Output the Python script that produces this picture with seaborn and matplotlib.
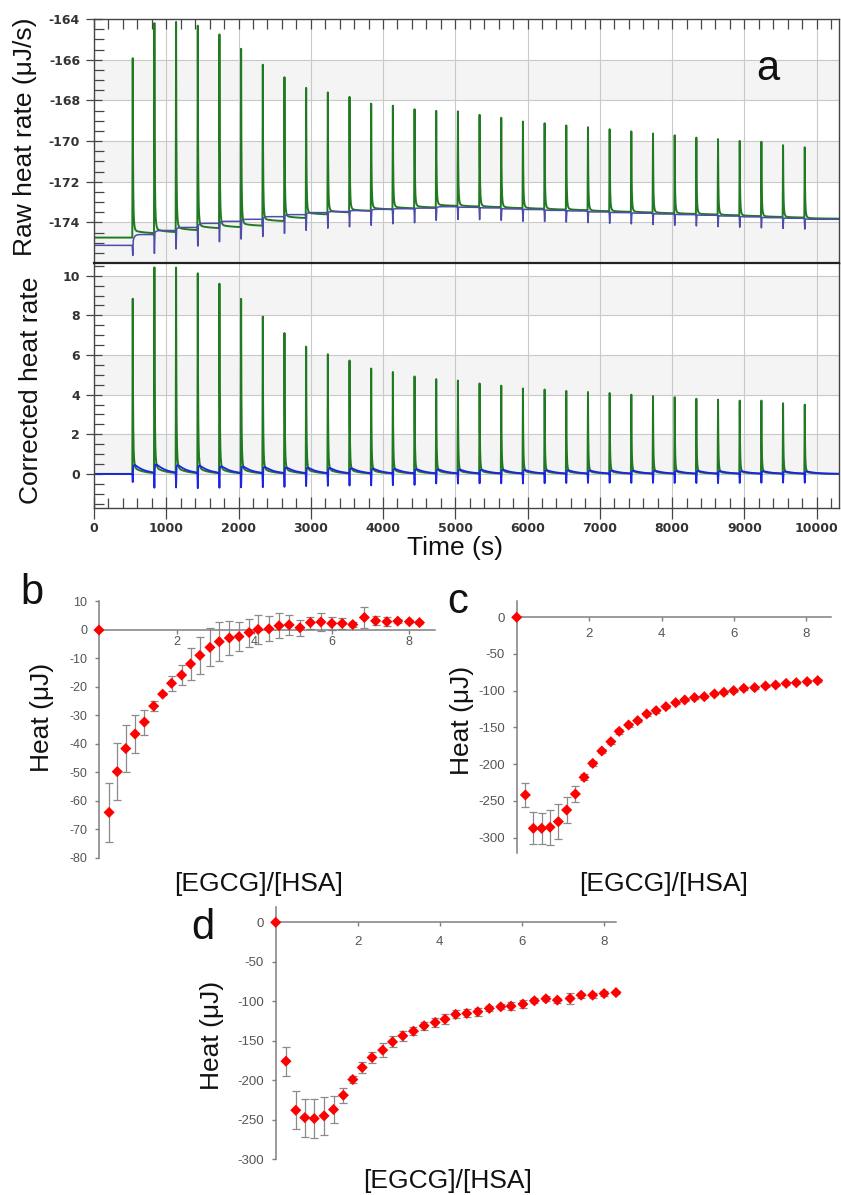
import numpy as np
import matplotlib
matplotlib.use("Agg")
import matplotlib.pyplot as plt
import seaborn as sns
from matplotlib.ticker import MultipleLocator

sns.set_theme(style="white")
plt.rcParams['font.family'] = ['Liberation Sans', 'DejaVu Sans']

# ---------------- thermogram data (panel a) ----------------
inj_time = [530, 830, 1130, 1430, 1730, 2030, 2330, 2630, 2930, 3230, 3530,
            3830, 4130, 4430, 4730, 5030, 5330, 5630, 5930, 6230, 6530, 6830,
            7130, 7430, 7730, 8030, 8330, 8630, 8930, 9230, 9530, 9830]

# corrected peak heights of the sample injections (uJ/s)
peak_sample = [8.70, 10.25, 10.25, 9.97, 9.46, 8.70, 7.81, 6.99, 6.31, 5.93,
               5.62, 5.22, 5.05, 4.83, 4.70, 4.63, 4.49, 4.38, 4.24, 4.19,
               4.12, 4.07, 4.02, 3.94, 3.87, 3.82, 3.74, 3.70, 3.65, 3.65,
               3.52, 3.45]

# blank injections: downward spike depth and following endothermic hump
spike_blank = [0.64, 0.98, 0.95, 0.97, 0.93, 0.90, 0.88, 0.85, 0.80, 0.78,
               0.76, 0.74, 0.72, 0.70, 0.62, 0.62, 0.60, 0.60, 0.60, 0.58,
               0.57, 0.56, 0.55, 0.55, 0.55, 0.55, 0.55, 0.55, 0.54, 0.53,
               0.52, 0.52]
hump_blank = [0.45, 0.42, 0.38, 0.36, 0.33, 0.32, 0.30, 0.28, 0.27, 0.26,
              0.25, 0.23, 0.22, 0.21, 0.20, 0.19, 0.18, 0.18, 0.17, 0.16,
              0.16, 0.15, 0.15, 0.14, 0.14, 0.13, 0.13, 0.12, 0.12, 0.12,
              0.11, 0.11]

# raw baseline level before the first and after every injection (uJ/s)
base_sample = [-174.75, -174.55, -174.50, -174.40, -174.30, -174.25, -174.18,
               -173.95, -173.80, -173.62, -173.52, -173.45, -173.37, -173.32,
               -173.28, -173.20, -173.23, -173.26, -173.31, -173.34, -173.38,
               -173.41, -173.46, -173.49, -173.52, -173.56, -173.59, -173.62,
               -173.66, -173.70, -173.74, -173.77, -173.82]
base_blank = [-175.13, -174.60, -174.40, -174.25, -174.05, -173.95, -173.85,
              -173.72, -173.62, -173.52, -173.47, -173.42, -173.36, -173.33,
              -173.30, -173.23, -173.26, -173.29, -173.34, -173.37, -173.41,
              -173.44, -173.49, -173.52, -173.55, -173.59, -173.62, -173.65,
              -173.69, -173.73, -173.77, -173.80, -173.85]

# ---------------- integrated heats (panels b, c, d) ----------------
b_ratio = [0, 0.26, 0.47, 0.69, 0.93, 1.17, 1.41, 1.64, 1.87, 2.13, 2.36, 2.60,
           2.86, 3.10, 3.36, 3.61, 3.87, 4.10, 4.38, 4.64, 4.90, 5.18, 5.45,
           5.72, 6.00, 6.27, 6.54, 6.84, 7.13, 7.42, 7.70, 8.00, 8.26]
b_heat = [0, -64.0, -49.7, -41.6, -36.5, -32.3, -26.7, -22.5, -18.7, -15.8,
          -11.9, -8.9, -6.1, -4.1, -2.8, -2.3, -0.9, 0.2, 0.4, 1.5, 1.8, 0.8,
          2.6, 2.8, 2.3, 2.3, 1.9, 4.4, 3.2, 2.9, 3.1, 2.9, 2.6]
b_sd = [0, 10.3, 10.1, 8.3, 6.8, 4.4, 1.8, 0.4, 2.6, 3.6, 5.6, 6.5, 6.7, 6.8,
        6.1, 5.0, 4.9, 5.0, 4.4, 4.3, 3.6, 2.8, 2.1, 3.3, 2.2, 2.0, 1.0, 3.7,
        1.6, 1.5, 0.6, 0.6, 0.5]

c_ratio = [0, 0.24, 0.46, 0.69, 0.92, 1.15, 1.38, 1.62, 1.86, 2.10, 2.35, 2.60,
           2.83, 3.09, 3.34, 3.59, 3.85, 4.12, 4.39, 4.64, 4.91, 5.18, 5.46,
           5.72, 5.99, 6.27, 6.57, 6.87, 7.15, 7.44, 7.72, 8.02, 8.31]
c_heat = [0, -242.0, -287.5, -287.5, -286.0, -278.4, -262.5, -240.7, -218.0,
          -199.0, -182.2, -169.5, -155.4, -146.7, -140.8, -131.7, -127.2,
          -121.7, -116.3, -112.6, -109.4, -108.1, -104.4, -102.2, -99.9, -96.8,
          -95.8, -93.6, -92.2, -90.0, -89.1, -87.7, -86.3]
c_sd = [0, 16.5, 21.6, 21.0, 24.0, 24.0, 17.7, 11.0, 4.0, 3.0, 3.0, 3.0, 3.0,
        3.0, 2.5, 2.5, 2.5, 2.5, 2.0, 2.0, 2.0, 2.0, 2.0, 2.0, 2.0, 2.0, 2.0,
        2.0, 2.0, 2.0, 2.0, 2.0, 2.0]

d_ratio = [0, 0.25, 0.49, 0.71, 0.94, 1.18, 1.41, 1.65, 1.88, 2.11, 2.35, 2.61,
           2.85, 3.10, 3.36, 3.62, 3.89, 4.13, 4.39, 4.66, 4.93, 5.21, 5.49,
           5.74, 6.03, 6.31, 6.59, 6.87, 7.18, 7.45, 7.73, 8.01, 8.30]
d_heat = [0, -175.8, -237.9, -247.2, -248.4, -245.0, -237.0, -218.9, -199.0,
          -183.8, -171.1, -161.8, -151.3, -143.7, -137.8, -131.0, -126.8,
          -122.6, -116.6, -115.3, -113.2, -109.0, -106.9, -106.1, -103.5,
          -99.3, -96.8, -98.5, -96.4, -92.2, -92.2, -90.2, -88.9]
d_sd = [0, 18.5, 24.0, 24.0, 24.5, 24.0, 17.0, 9.7, 4.0, 7.0, 7.0, 9.0, 7.0,
        6.0, 5.0, 5.0, 6.0, 6.0, 5.0, 5.0, 5.0, 3.0, 3.0, 5.0, 5.0, 3.0, 3.0,
        3.0, 7.0, 3.0, 3.0, 3.0, 2.0]

# ---------------- build the heat-rate traces ----------------
t = np.arange(0.0, 10310.0, 1.0)


def baseline(levels):
    out = np.full_like(t, levels[0])
    for k, t0 in enumerate(inj_time):
        dt = t - t0
        m = dt >= 0
        out[m] += (levels[k + 1] - levels[k]) * (1 - np.exp(-dt[m] / 20.0))
    return out


def peak_shape(dt):
    # fast rise, sharp fall with a small shoulder a few seconds later
    rise = np.clip(dt / 6.0, 0, 1)
    fall = np.where(dt > 6,
                    0.72 * np.exp(-(dt - 6) / 4.0) + 0.28 * np.exp(-(dt - 6) / 11.0),
                    1.0)
    return np.where(dt >= 0, rise * fall, 0.0)


def hump_shape(dt):
    dd = np.clip(dt, 0, None)
    h = (1 - np.exp(-dd / 12.0)) * np.exp(-dd / 140.0)
    ref = np.arange(0, 300.0)
    return h / ((1 - np.exp(-ref / 12.0)) * np.exp(-ref / 140.0)).max()


def spike_shape(dt):
    return np.exp(-((dt - 6.0) / 4.0) ** 2)


sample_peaks = np.zeros_like(t)
sample_hump = np.zeros_like(t)
blank_spike = np.zeros_like(t)
blank_hump = np.zeros_like(t)
for t0, h, s, b in zip(inj_time, peak_sample, spike_blank, hump_blank):
    dt = t - t0
    sample_peaks += h * peak_shape(dt)
    sample_hump += b * hump_shape(dt)
    blank_spike -= s * spike_shape(dt)
    blank_hump += b * hump_shape(dt)

raw_sample = baseline(base_sample) + sample_peaks + 0.3 * sample_hump
raw_blank = baseline(base_blank) + blank_spike
cor_sample = sample_peaks + 0.6 * sample_hump
cor_blank = blank_spike + blank_hump

# ---------------- figure ----------------
W, H = 841, 1195
fig = plt.figure(figsize=(W / 100, H / 100), dpi=100)
fig.patch.set_facecolor('white')


def px_axes(left, top, right, bottom):
    return fig.add_axes([left / W, 1 - bottom / H, (right - left) / W, (bottom - top) / H])


GREEN = '#217a21'
RAW_BLUE = '#4d4daa'
COR_BLUE = '#1c22e6'
SPINE = '#454545'
TICKFONT = dict(fontfamily='DejaVu Sans', fontweight='bold', fontsize=9, color='#333333')

ax_raw = px_axes(94, 19, 839, 263)
ax_cor = px_axes(94, 263, 839, 508)

for ax in (ax_raw, ax_cor):
    ax.set_facecolor('white')
    ax.set_xlim(0, 10310)
    ax.xaxis.set_major_locator(MultipleLocator(1000))
    ax.xaxis.set_minor_locator(MultipleLocator(200))
    ax.yaxis.set_minor_locator(MultipleLocator(0.5))
    ax.grid(True, which='major', color='#c9c9c9', lw=0.8)
    ax.set_axisbelow(True)
    for sp in ax.spines.values():
        sp.set_color(SPINE)
        sp.set_linewidth(1.0)
        sp.set_visible(True)
    ax.tick_params(axis='y', which='major', direction='inout', length=12, width=0.9,
                   color=SPINE, left=True, right=False, pad=4)
    ax.tick_params(axis='y', which='minor', direction='in', length=7, width=0.9,
                   color=SPINE, left=True, right=False)

# background bands
for lo, hi in [(-168, -166), (-172, -170), (-176, -174)]:
    ax_raw.axhspan(lo, hi, color='#f4f4f4', lw=0, zorder=0)
for lo, hi in [(8, 10), (4, 6), (0, 2)]:
    ax_cor.axhspan(lo, hi, color='#f4f4f4', lw=0, zorder=0)

sns.lineplot(x=t, y=raw_sample, ax=ax_raw, color=GREEN, lw=1.4, estimator=None, sort=False)
sns.lineplot(x=t, y=raw_blank, ax=ax_raw, color=RAW_BLUE, lw=1.1, estimator=None, sort=False)
sns.lineplot(x=t, y=cor_sample, ax=ax_cor, color=GREEN, lw=1.4, estimator=None, sort=False)
sns.lineplot(x=t, y=cor_blank, ax=ax_cor, color=COR_BLUE, lw=1.3, estimator=None, sort=False)

raw_ticks = [-174, -172, -170, -168, -166, -164]
ax_raw.set_ylim(-176, -164)
ax_raw.set_yticks(raw_ticks, labels=[str(v) for v in raw_ticks], **TICKFONT)
ax_raw.tick_params(axis='x', which='both', bottom=False, top=True, labelbottom=False,
                   direction='in', color=SPINE, width=0.9)
ax_raw.tick_params(axis='x', which='major', length=7)
ax_raw.tick_params(axis='x', which='minor', length=7)

cor_ticks = [0, 2, 4, 6, 8, 10]
ax_cor.set_ylim(-1.72, 10.64)
ax_cor.set_yticks(cor_ticks, labels=[str(v) for v in cor_ticks], **TICKFONT)
time_ticks = list(range(0, 10001, 1000))
ax_cor.set_xticks(time_ticks, labels=[str(v) for v in time_ticks], **TICKFONT)
ax_cor.tick_params(axis='x', which='major', bottom=True, top=False, direction='inout',
                   length=16, width=0.9, color=SPINE, pad=2)
ax_cor.tick_params(axis='x', which='minor', bottom=True, top=False, direction='in',
                   length=7, width=0.9, color=SPINE)
ax_cor.spines['top'].set_linewidth(1.6)
ax_cor.spines['top'].set_color('#222222')
ax_raw.set_xlabel('')
ax_raw.set_ylabel('')
ax_cor.set_xlabel('')
ax_cor.set_ylabel('')

LABEL = dict(fontsize=19, color='#111111')
fig.text(25 / W, 1 - 137 / H, 'Raw heat rate (μJ/s)', rotation=90, ha='center', va='center', **LABEL)
fig.text(31 / W, 1 - 390 / H, 'Corrected heat rate', rotation=90, ha='center', va='center', **LABEL)
fig.text(455 / W, 1 - 548 / H, 'Time (s)', ha='center', va='center', **LABEL)
fig.text(768 / W, 1 - 69 / H, 'a', ha='center', va='center', fontsize=30, color='#111111')


# ---------------- titration panels ----------------
def titration(ax, x, y, sd, xlim, ylim, yticks, tick_size, xpad):
    ax.set_facecolor('none')
    ax.set_xlim(*xlim)
    ax.set_ylim(*ylim)
    for side in ('top', 'right'):
        ax.spines[side].set_visible(False)
    ax.spines['bottom'].set_position(('data', 0))
    for side in ('left', 'bottom'):
        ax.spines[side].set_color('#7f7f7f')
        ax.spines[side].set_linewidth(1.1)
        ax.spines[side].set_visible(True)
    ax.errorbar(x, y, yerr=sd, fmt='none', ecolor='#8a8a8a', elinewidth=0.9,
                capsize=2.8, capthick=0.9, zorder=2, clip_on=False)
    sns.scatterplot(x=x, y=y, ax=ax, marker='D', color='#ff0000', s=32,
                    edgecolor='none', linewidth=0, zorder=3, clip_on=False)
    ax.set_xticks([2, 4, 6, 8], labels=['2', '4', '6', '8'])
    ax.set_yticks(yticks, labels=[str(v) for v in yticks])
    ax.tick_params(axis='x', direction='out', length=3, width=1.0, color='#7f7f7f',
                   labelsize=tick_size, labelcolor='#555555', pad=xpad, bottom=True)
    ax.tick_params(axis='y', direction='out', length=3, width=1.0, color='#7f7f7f',
                   labelsize=tick_size, labelcolor='#555555', pad=5.5, left=True)
    ax.set_xlabel('')
    ax.set_ylabel('')
    ax.grid(False)


ax_b = px_axes(99, 601.5, 435, 858)
titration(ax_b, b_ratio, b_heat, b_sd, (0, 8.66), (-80, 10),
          [10, 0, -10, -20, -30, -40, -50, -60, -70, -80], 9, 1.5)

ax_c = px_axes(516.7, 600.7, 830.7, 853.3)
titration(ax_c, c_ratio, c_heat, c_sd, (0, 8.67), (-321.5, 22.6),
          [0, -50, -100, -150, -200, -250, -300], 9.5, 5)

ax_d = px_axes(275.7, 906.7, 616, 1159.3)
titration(ax_d, d_ratio, d_heat, d_sd, (0, 8.3), (-300, 19.8),
          [0, -50, -100, -150, -200, -250, -300], 9.5, 7)

for (cx, cy), txt in zip([(42, 717), (462, 720), (212, 1035)], ['Heat (μJ)'] * 3):
    fig.text(cx / W, 1 - cy / H, txt, rotation=90, ha='center', va='center', **LABEL)
for cx, cy in [(259, 884), (664, 884), (448, 1181)]:
    fig.text(cx / W, 1 - cy / H, '[EGCG]/[HSA]', ha='center', va='center', **LABEL)
for (cx, cy), letter in zip([(32, 593), (458, 602), (203, 928)], ['b', 'c', 'd']):
    fig.text(cx / W, 1 - cy / H, letter, ha='center', va='center', fontsize=30, color='#111111')

fig.savefig('out.png', dpi=100)
